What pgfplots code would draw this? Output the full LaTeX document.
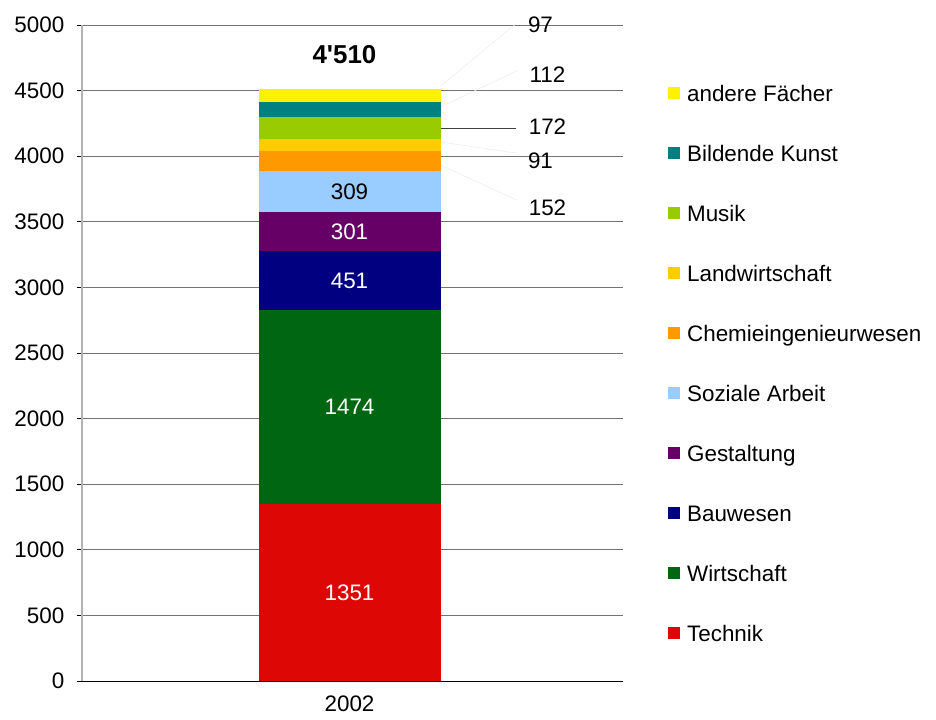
\documentclass[border=0pt]{standalone}
\usepackage{pgfplots}
\pgfplotsset{compat=1.18}
\usepackage{fontspec}
\setmainfont{Liberation Sans}[Ligatures=TeXOff]
\definecolor{cTech}{RGB}{221,8,6}
\definecolor{cWirt}{RGB}{0,102,17}
\definecolor{cBau}{RGB}{0,0,128}
\definecolor{cGest}{RGB}{102,0,102}
\definecolor{cSoz}{RGB}{153,204,255}
\definecolor{cChem}{RGB}{255,153,0}
\definecolor{cLand}{RGB}{255,204,0}
\definecolor{cMus}{RGB}{153,204,0}
\definecolor{cBild}{RGB}{0,128,128}
\definecolor{cAnd}{RGB}{255,242,0}
\newcommand{\fs}{\fontsize{22.5}{27}\selectfont}
\begin{document}
\fs
\begin{tikzpicture}
\path[use as bounding box] (-82bp,-39bp) rectangle (854bp,681bp);
\begin{axis}[
  at={(0,0)}, anchor=south west,
  scale only axis, width=541bp, height=656bp,
  ybar stacked, bar width=182bp,
  xmin=-1.4834, xmax=1.5166, ymin=0, ymax=5000,
  xtick={0}, xticklabels={2002},
  extra x ticks={-1.4834,1.5166}, extra x tick labels={},
  extra x tick style={major tick length=6bp, tick style={black, line width=0.8pt}, grid=none},
  x tick style={draw=none},
  ytick={0,500,...,5000},
  y tick style={black, line width=0.8pt},
  major tick length=5bp,
  tick align=outside,
  ymajorgrids, grid style={gray!90!black, line width=0.8pt},
  axis line style={gray!60, line width=1.2pt},
  separate axis lines,
  x axis line style={black, line width=1pt},
  axis x line*=bottom,
  axis y line*=left,
  yticklabel style={font=\fs, xshift=-5bp},
  xticklabel style={font=\fs, yshift=-2bp},
  /pgf/number format/assume math mode=true,
  /pgf/number format/1000 sep={},
  scaled y ticks=false,
  yticklabel={\pgfmathprintnumber[fixed,1000 sep={}]{\tick}},
  clip=false,
  reverse legend,
  legend cell align=left,
  legend style={at={(rel axis cs:1.083,0.9096)}, anchor=north west, draw=none, fill=none,
    inner sep=0pt, row sep=38bp, column sep=0pt,
    nodes={inner sep=0pt, text height=17bp, text depth=5bp, font=\fs}},
  legend image code/.code={\fill[#1,draw=none] (0bp,-3.8bp) rectangle (12bp,8.2bp); \path (19bp,0bp);},
  nodes near coords style={font=\fs},
]
\addplot[fill=cTech, draw=none, nodes near coords, every node near coord/.style={white}] coordinates {(0,1351)};
\addlegendentry{Technik}
\addplot[fill=cWirt, draw=none, nodes near coords, every node near coord/.style={white}] coordinates {(0,1474)};
\addlegendentry{Wirtschaft}
\addplot[fill=cBau, draw=none, nodes near coords, every node near coord/.style={white}] coordinates {(0,451)};
\addlegendentry{Bauwesen}
\addplot[fill=cGest, draw=none, nodes near coords, every node near coord/.style={white}] coordinates {(0,301)};
\addlegendentry{Gestaltung}
\addplot[fill=cSoz, draw=none, nodes near coords, every node near coord/.style={black}] coordinates {(0,309)};
\addlegendentry{Soziale Arbeit}
\addplot[fill=cChem, draw=none] coordinates {(0,152)};
\addlegendentry{Chemieingenieurwesen}
\addplot[fill=cLand, draw=none] coordinates {(0,91)};
\addlegendentry{Landwirtschaft}
\addplot[fill=cMus, draw=none] coordinates {(0,172)};
\addlegendentry{Musik}
\addplot[fill=cBild, draw=none] coordinates {(0,112)};
\addlegendentry{Bildende Kunst}
\addplot[fill=cAnd, draw=none] coordinates {(0,97)};
\addlegendentry{andere Fächer}
% leader lines
\draw[gray!15, line width=0.6pt] (axis cs:0.5046,4535) -- (axis cs:0.915,5000);
\draw[gray!15, line width=0.6pt] (axis cs:0.5046,4375) -- (axis cs:0.926,4649);
\draw[black!75, line width=0.8pt] (axis cs:0.5046,4215) -- (axis cs:0.926,4215);
\draw[gray!15, line width=0.6pt] (axis cs:0.5046,4108) -- (axis cs:0.926,4024);
\draw[gray!15, line width=0.6pt] (axis cs:0.5046,3933) -- (axis cs:0.926,3666);
% outside labels
\node[font=\fs] at (axis cs:1.059,5000) {97};
\node[font=\fs] at (axis cs:1.098,4619) {112};
\node[font=\fs] at (axis cs:1.098,4223) {172};
\node[font=\fs] at (axis cs:1.059,3963) {91};
\node[font=\fs] at (axis cs:1.098,3605) {152};
\node[font=\bfseries\fontsize{26}{30}\selectfont] at (axis cs:-0.028,4771) {4'510};
\end{axis}
\end{tikzpicture}
\end{document}
